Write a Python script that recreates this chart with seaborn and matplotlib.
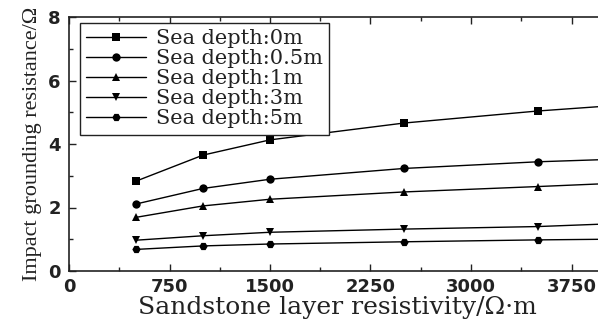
import numpy as np
import pandas as pd
import matplotlib
matplotlib.use("Agg")
import matplotlib.pyplot as plt
import seaborn as sns
from matplotlib.ticker import MultipleLocator

# Sandstone layer resistivity (Ohm*m)
resistivity = [500, 1000, 1500, 2500, 3500, 4000]

# Impact grounding resistance (Ohm) for each sea depth
r_0m = [2.83, 3.65, 4.13, 4.66, 5.04, 5.19]
r_05m = [2.11, 2.60, 2.89, 3.23, 3.44, 3.51]
r_1m = [1.69, 2.05, 2.26, 2.49, 2.66, 2.75]
r_3m = [0.97, 1.11, 1.22, 1.32, 1.40, 1.48]
r_5m = [0.68, 0.79, 0.85, 0.92, 0.98, 1.00]

series_labels = ["Sea depth:0m", "Sea depth:0.5m", "Sea depth:1m",
                 "Sea depth:3m", "Sea depth:5m"]
series_values = [r_0m, r_05m, r_1m, r_3m, r_5m]
marker_shapes = ["s", "o", "^", "v", "H"]

x_ticks = [0, 750, 1500, 2250, 3000, 3750]
y_ticks = [0, 2, 4, 6, 8]

frames = []
for label, vals in zip(series_labels, series_values):
    frames.append(pd.DataFrame({"resistivity": resistivity,
                                "resistance": vals,
                                "series": label}))
df = pd.concat(frames, ignore_index=True)

sns.set_theme(style="ticks")
plt.rcParams["font.family"] = ["DejaVu Serif"]

fig = plt.figure(figsize=(5.98, 3.20), dpi=100)
ax = fig.add_axes([69 / 598, 1 - 271 / 320, 536 / 598, 254 / 320])

sns.lineplot(data=df, x="resistivity", y="resistance", hue="series",
             style="series", markers=marker_shapes, dashes=False,
             palette=["black"] * 5, linewidth=1.0, markersize=6,
             markeredgewidth=0, ax=ax)

ax.set_xlim(0, 4000)
ax.set_ylim(0, 8)
ax.set_xticks(x_ticks)
ax.set_yticks(y_ticks)
ax.xaxis.set_minor_locator(MultipleLocator(375))
ax.yaxis.set_minor_locator(MultipleLocator(1))
ax.tick_params(which="both", direction="in", top=True, right=True,
               color="#222222", width=1.0)
ax.tick_params(which="major", length=5, pad=6)
ax.tick_params(axis="x", which="major", pad=5)
ax.tick_params(which="minor", length=3)
for lab in ax.get_xticklabels() + ax.get_yticklabels():
    lab.set_fontfamily(["DejaVu Sans"])
    lab.set_fontweight("bold")
    lab.set_fontsize(13)
    lab.set_color("#222222")
for sp in ax.spines.values():
    sp.set_linewidth(1.2)
    sp.set_color("#222222")

ax.set_xlabel("Sandstone layer resistivity/Ω·m", fontsize=18,
              color="#222222", labelpad=0)
ax.set_ylabel("Impact grounding resistance/Ω", fontsize=16,
              family=["Liberation Serif", "DejaVu Serif"],
              color="#222222", labelpad=4)

leg = ax.legend(loc="upper left", bbox_to_anchor=(0.02, 0.977),
                borderaxespad=0, fontsize=15, frameon=True, fancybox=False,
                framealpha=1, edgecolor="#222222", handlelength=2.9,
                handletextpad=0.45, labelspacing=0.05, borderpad=0.3)
leg.get_frame().set_linewidth(1.0)
for t in leg.get_texts():
    t.set_color("#222222")

fig.savefig("out.png", dpi=100)
